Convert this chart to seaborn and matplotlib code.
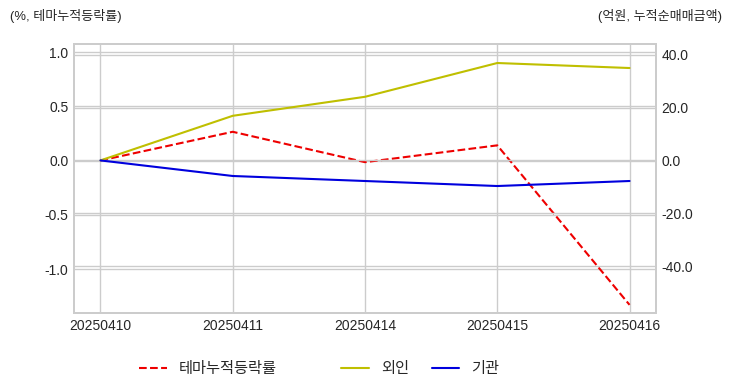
import matplotlib
matplotlib.use("Agg")
import matplotlib.pyplot as plt
import seaborn as sns
import pandas as pd
from matplotlib.ticker import FormatStrFormatter

dates = ["20250410", "20250411", "20250414", "20250415", "20250416"]
theme_ret = [0.0, 0.265, -0.015, 0.14, -1.33]
foreign = [0.0, 16.9, 24.1, 36.9, 35.0]
institution = [0.0, -5.9, -7.8, -9.7, -7.8]

sns.set_theme(style="whitegrid")
plt.rcParams['font.family'] = ['Liberation Sans', 'Noto Sans CJK KR', 'DejaVu Sans']
plt.rcParams['axes.unicode_minus'] = False

df = pd.DataFrame({"date": dates, "theme": theme_ret, "foreign": foreign, "inst": institution})

fig = plt.figure(figsize=(7.32, 3.92), dpi=100)
ax1 = fig.add_axes([74/732, 1-313/392, (656-74)/732, (313-44)/392])
ax2 = ax1.twinx()

sns.lineplot(data=df, x="date", y="theme", ax=ax1, color="#ee0000", linestyle="--", label="테마누적등락률", linewidth=1.5)
sns.lineplot(data=df, x="date", y="foreign", ax=ax2, color="#bfbf00", label="외인", linewidth=1.5)
sns.lineplot(data=df, x="date", y="inst", ax=ax2, color="#0000dd", label="기관", linewidth=1.5)

ax1.set_xlim(-0.2, 4.2)
ax1.set_ylim(-1.405, 1.074)
ax2.set_ylim(-57.8, 44.1)
ax1.set_yticks([-1.0, -0.5, 0.0, 0.5, 1.0])
ax2.set_yticks([-40, -20, 0, 20, 40])
ax1.yaxis.set_major_formatter(FormatStrFormatter('%.1f'))
ax2.yaxis.set_major_formatter(FormatStrFormatter('%.1f'))
for ax in (ax1, ax2):
    ax.set_xlabel("")
    ax.set_ylabel("")
    ax.tick_params(labelsize=10, colors="#262626", pad=4, length=0)
    for s in ax.spines.values():
        s.set_color("#cccccc")
ax1.get_legend().remove()
ax2.get_legend().remove()

h1, l1 = ax1.get_legend_handles_labels()
h2, l2 = ax2.get_legend_handles_labels()
fig.legend(h1, l1, loc="center left", bbox_to_anchor=(139/732, 1-369/392), frameon=False,
           fontsize=11, borderpad=0, borderaxespad=0, handlelength=1.8, handletextpad=0.8)
fig.legend(h2, l2, loc="center left", bbox_to_anchor=(341/732, 1-369/392), frameon=False,
           fontsize=11, ncol=2, columnspacing=1.5, borderpad=0, borderaxespad=0,
           handlelength=1.8, handletextpad=0.8)

fig.text(10/732, 1-16/392, "(%, 테마누적등락률)", ha="left", va="center", fontsize=9.4, color="#262626")
fig.text(722/732, 1-16/392, "(억원, 누적순매매금액)", ha="right", va="center", fontsize=9.4, color="#262626")

fig.savefig("out.png", dpi=100)
